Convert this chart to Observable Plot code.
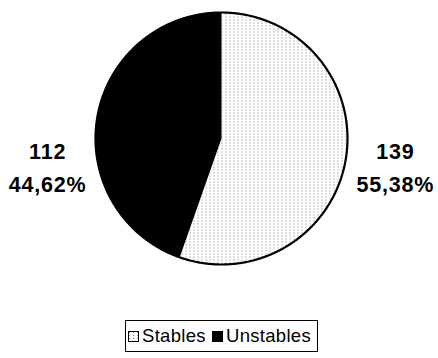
<!DOCTYPE html>
<html>
<head>
<meta charset="utf-8">
<script src="https://cdn.jsdelivr.net/npm/d3@7"></script>
<script src="https://cdn.jsdelivr.net/npm/@observablehq/plot@0.6"></script>
<style>
  html, body { margin: 0; padding: 0; background: #fff; }
  #wrap { position: relative; width: 438px; height: 358px; overflow: hidden; font-family: "Liberation Sans", Arial, sans-serif; }
  #legend { position: absolute; left: 125px; top: 320px; width: 191px; height: 30px; border: 1px solid #000; background: #fff; }
  #legend .item { position: absolute; top: 0; height: 30px; display: flex; align-items: center; font-size: 18.5px; letter-spacing: 0.3px; color: #000; white-space: nowrap; }
  #legend svg { display: block; margin-right: 3px; }
</style>
</head>
<body>
<div id="wrap"></div>
<script>
// ---- data ----
const categories = ["Stables", "Unstables"];
const counts = [139, 112];
const percentLabels = ["55,38%", "44,62%"];

// ---- style ----
const fills = ["url(#dots)", "#000"];

// Slice geometry from d3.pie (angles clockwise from 12 o'clock)
const pie = d3.pie().sort(null).value(d => d.count);
const rows = categories.map((c, i) => ({category: c, count: counts[i], pct: percentLabels[i], fill: fills[i]}));
const arcs = pie(rows);

function slicePoints(a) {
  const pts = [{x: 0, y: 0}];
  const n = Math.max(2, Math.ceil((a.endAngle - a.startAngle) / (Math.PI / 360)));
  for (let k = 0; k <= n; k++) {
    const t = a.startAngle + (a.endAngle - a.startAngle) * k / n;
    pts.push({x: Math.sin(t), y: Math.cos(t)});
  }
  pts.push({x: 0, y: 0});
  return pts;
}

// labels sit beside the pie, level with each other, on the side of their slice
const labelX = 1.38, labelY = -0.21;
const labels = arcs.map(a => {
  const m = (a.startAngle + a.endAngle) / 2;
  return {x: Math.sign(Math.sin(m)) * labelX, y: labelY, text: `${a.data.count}\n${a.data.pct}`};
});

const plot = Plot.plot({
  width: 438,
  height: 316,
  margin: 0,
  x: {domain: [-1, 1], range: [95, 347], axis: null},
  y: {domain: [-1, 1], range: [264, 12], axis: null},
  marks: [
    ...arcs.map(a => Plot.line(slicePoints(a), {x: "x", y: "y", fill: a.data.fill, stroke: "none"})),
    Plot.line(slicePoints({startAngle: 0, endAngle: 2 * Math.PI}).slice(1, -1), {x: "x", y: "y", stroke: "#000", strokeWidth: 2.2, fill: "none"}),
    Plot.text(labels, {x: "x", y: "y", text: "text", fontSize: 21.5, fontWeight: "bold", lineHeight: 1.55, fill: "#000", fontFamily: "Liberation Sans, Arial, sans-serif"})
  ]
});

// dotted pattern definition
const ns = "http://www.w3.org/2000/svg";
const defs = document.createElementNS(ns, "defs");
defs.innerHTML = `<pattern id="dots" width="4" height="3" patternUnits="userSpaceOnUse">
  <rect width="4" height="3" fill="#fff"/>
  <rect x="1" y="1" width="1" height="1" fill="#7a7a7a"/>
</pattern>`;
plot.insertBefore(defs, plot.firstChild);
plot.querySelectorAll("text").forEach(t => t.setAttribute("letter-spacing", "0.8"));
plot.style.display = "block";

const wrap = document.getElementById("wrap");
wrap.appendChild(plot);

// legend
const legend = document.createElement("div");
legend.id = "legend";
const positions = [2, 86];
categories.forEach((c, i) => {
  const item = document.createElement("div");
  item.className = "item";
  item.style.left = positions[i] + "px";
  item.innerHTML = `<svg width="11" height="11"><rect x="0.5" y="0.5" width="10" height="10" fill="${fills[i]}" stroke="#000" stroke-width="1"/></svg><span>${c}</span>`;
  legend.appendChild(item);
});
wrap.appendChild(legend);
</script>
</body>
</html>
